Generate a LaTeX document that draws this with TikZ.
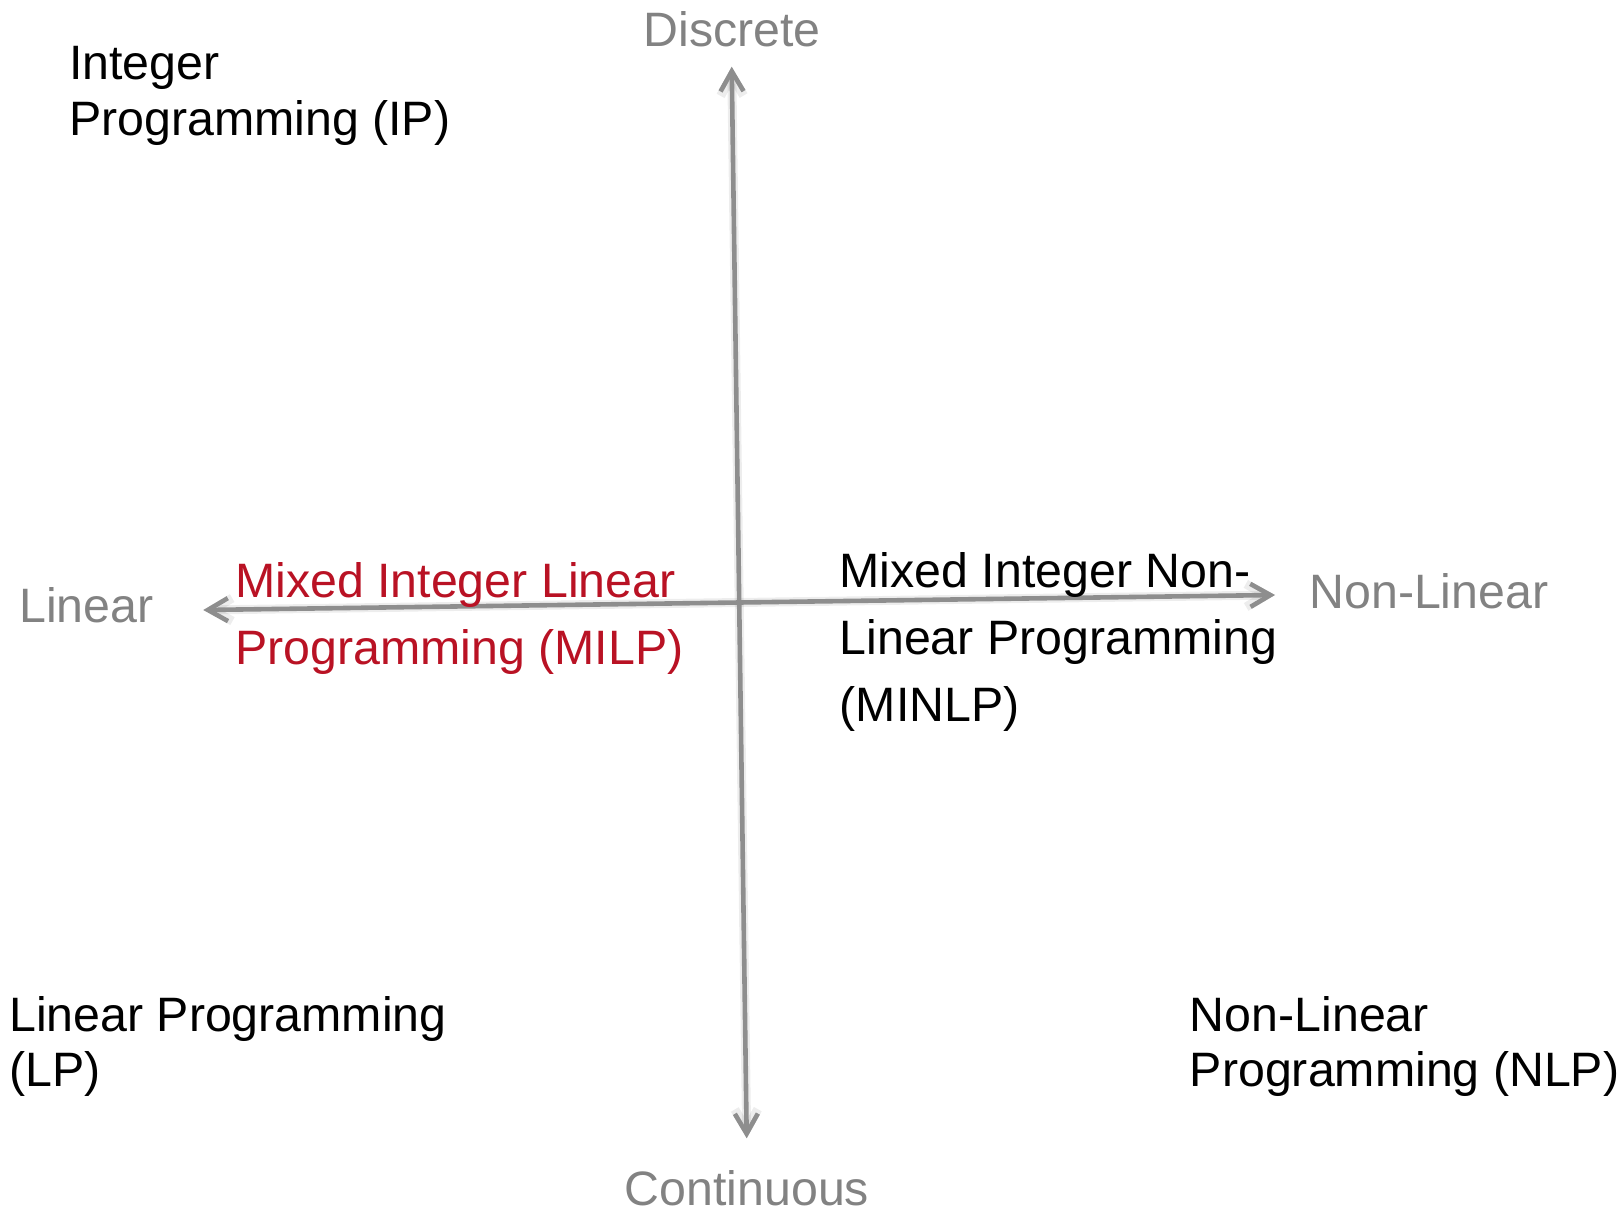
\documentclass[tikz,border=0pt]{standalone}
\usepackage{fontspec}
\setmainfont{Liberation Sans}
\usetikzlibrary{arrows.meta}

\definecolor{axisgray}{RGB}{142,142,142}
\definecolor{labelgray}{RGB}{130,130,130}
\definecolor{milpred}{RGB}{185,18,36}

% left-aligned block whose baseline is that of its first line
\newcommand\textrows[1]{\vtop{\halign{##\hfil\cr#1\crcr}}}

\tikzset{
  barb/.tip={Straight Barb[length=20pt,width=23pt]},
  axis/.style={draw=axisgray, line width=4.6pt, barb-barb},
  axisshade/.style={draw=black, opacity=0.07, line width=9pt, barb-barb},
  txt/.style={inner sep=0pt, anchor=base west, text=black,
              font=\fontsize{48.3}{55}\selectfont},
  widetxt/.style={txt, font=\fontsize{48.3}{67}\selectfont},
  axislabel/.style={inner sep=0pt, text=labelgray,
                    font=\fontsize{48.3}{55}\selectfont},
}

\begin{document}
\begin{tikzpicture}[x=1pt, y=-1pt]
  \useasboundingbox (0,0) rectangle (1619,1215);

  % axis end points
  \coordinate (top)   at (731.7, 66.7);
  \coordinate (bot)   at (746.7, 1138.3);
  \coordinate (lin)   at (203.3, 610);
  \coordinate (nonlin) at (1275, 595);

  % soft shadow under the axes
  \begin{scope}[shift={(2,4)}]
    \draw[axisshade] (bot) -- (top);
    \draw[axisshade] (nonlin) -- (lin);
  \end{scope}

  % axes
  \draw[axis] (bot) -- (top);
  \draw[axis] (nonlin) -- (lin);

  % axis labels
  \node[axislabel, anchor=base] (discrete) at (732, 47) {Discrete};
  \node[axislabel, anchor=base] (continuous) at (747, 1205) {Continuous};
  \node[axislabel, anchor=base west] (linear) at (19.2, 622.7) {Linear};
  \node[axislabel, anchor=base west] (nonlinear) at (1309.2, 608.3) {Non-Linear};

  % problem classes
  \node[txt] (ip) at (69, 80) {\textrows{Integer\cr Programming (IP)}};
  \node[widetxt, text=milpred] (milp) at (235, 597)
    {\textrows{Mixed Integer Linear\cr Programming (MILP)}};
  \node[widetxt] (minlp) at (839.5, 587)
    {\textrows{Mixed Integer Non-\cr Linear Programming\cr (MINLP)}};
  \node[txt] (lp) at (9, 1031.7) {\textrows{Linear Programming\cr (LP)}};
  \node[txt] (nlp) at (1189.7, 1031.7) {\textrows{Non-Linear\cr Programming (NLP)}};
\end{tikzpicture}
\end{document}
